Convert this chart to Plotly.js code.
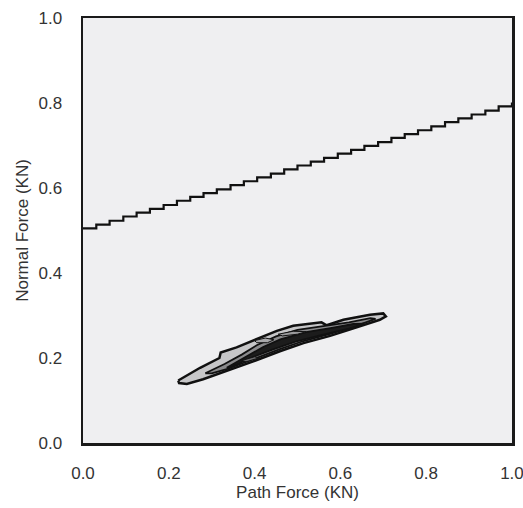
<!DOCTYPE html>
<html>
<head>
<meta charset="utf-8">
<script src="https://cdn.plot.ly/plotly-3.0.1.min.js"></script>
<style>html,body{margin:0;padding:0;background:#fff;}#chart{width:523px;height:508px;}</style>
</head>
<body>
<div id="chart"></div>
<script>
// Staircase boundary line (step starts)
const lineX = [0, 0.031, 0.062, 0.094, 0.125, 0.156, 0.188, 0.219, 0.25, 0.281, 0.312, 0.344, 0.375, 0.406, 0.438, 0.469, 0.5, 0.531, 0.562, 0.594, 0.625, 0.656, 0.688, 0.719, 0.75, 0.781, 0.812, 0.844, 0.875, 0.906, 0.938, 0.969, 1.0];
const lineY = [0.505, 0.514, 0.523, 0.533, 0.542, 0.551, 0.560, 0.570, 0.579, 0.588, 0.597, 0.607, 0.616, 0.625, 0.634, 0.644, 0.653, 0.662, 0.671, 0.681, 0.690, 0.699, 0.708, 0.718, 0.727, 0.736, 0.745, 0.755, 0.764, 0.773, 0.782, 0.792, 0.801];

// Contour outlines (outer -> inner)
const outerX = [0.222, 0.273, 0.318, 0.321, 0.358, 0.405, 0.452, 0.490, 0.556, 0.568, 0.607, 0.669, 0.700, 0.706, 0.692, 0.638, 0.576, 0.514, 0.459, 0.397, 0.335, 0.280, 0.242, 0.224, 0.222];
const outerY = [0.147, 0.177, 0.200, 0.213, 0.225, 0.244, 0.264, 0.276, 0.284, 0.277, 0.290, 0.302, 0.305, 0.298, 0.290, 0.272, 0.252, 0.235, 0.216, 0.192, 0.169, 0.150, 0.139, 0.141, 0.147];

const midX = [0.285, 0.330, 0.370, 0.405, 0.450, 0.500, 0.560, 0.620, 0.670, 0.682, 0.640, 0.576, 0.514, 0.459, 0.397, 0.335, 0.300, 0.285];
const midY = [0.164, 0.186, 0.208, 0.230, 0.251, 0.266, 0.275, 0.284, 0.294, 0.292, 0.277, 0.257, 0.240, 0.221, 0.197, 0.174, 0.164, 0.164];

const darkX = [0.335, 0.380, 0.420, 0.460, 0.520, 0.580, 0.630, 0.655, 0.620, 0.560, 0.500, 0.440, 0.390, 0.350, 0.335];
const darkY = [0.177, 0.203, 0.226, 0.244, 0.261, 0.271, 0.280, 0.281, 0.269, 0.255, 0.240, 0.219, 0.200, 0.181, 0.177];

const island1X = [0.40, 0.425, 0.445, 0.43, 0.405, 0.40];
const island1Y = [0.241, 0.247, 0.243, 0.236, 0.236, 0.241];
const island2X = [0.455, 0.49, 0.52, 0.50, 0.465, 0.455];
const island2Y = [0.256, 0.263, 0.262, 0.256, 0.252, 0.256];
const island3X = [0.37, 0.40, 0.41, 0.38, 0.37];
const island3Y = [0.194, 0.203, 0.200, 0.191, 0.194];

const xTicks = [0, 0.2, 0.4, 0.6, 0.8, 1.0];
const xTickText = ['0.0', '0.2', '0.4', '0.6', '0.8', '1.0'];
const yTicks = [0, 0.2, 0.4, 0.6, 0.8, 1.0];
const yTickText = ['0.0', '0.2', '0.4', '0.6', '0.8', '1.0'];

function poly(x, y, fill, w) {
  return {x: x, y: y, type: 'scatter', mode: 'lines', fill: 'toself', fillcolor: fill,
          line: {color: '#111', width: w}, hoverinfo: 'skip', showlegend: false};
}

const traces = [
  poly(outerX, outerY, '#c6c6c8', 2.5),
  poly(midX, midY, '#8a8a8c', 1.8),
  poly(darkX, darkY, '#1c1c1c', 1.8),
  poly(island1X, island1Y, '#a8a8aa', 1),
  poly(island2X, island2Y, '#9a9a9c', 1),
  poly(island3X, island3Y, '#6a6a6c', 1),
  {x: lineX, y: lineY, type: 'scatter', mode: 'lines', line: {color: '#111', width: 2.2, shape: 'hv'}, showlegend: false}
];

const layout = {
  width: 523, height: 508,
  margin: {l: 83, r: 11, t: 18, b: 65},
  paper_bgcolor: '#ffffff',
  plot_bgcolor: '#efeff1',
  font: {family: 'Liberation Sans, Arial, sans-serif', size: 17, color: '#333'},
  showlegend: false,
  xaxis: {
    range: [0, 1.0001], tickvals: xTicks, ticktext: xTickText, ticklabeloverflow: 'allow',
    showgrid: false, zeroline: false, showline: true, mirror: true,
    linecolor: '#1a1a1a', linewidth: 2.5, ticks: 'outside', ticklen: 13, tickcolor: 'rgba(0,0,0,0)',
    title: {text: 'Path Force (KN)', font: {size: 17, color: '#333'}, standoff: 4}
  },
  yaxis: {
    range: [0, 1.0001], tickvals: yTicks, ticktext: yTickText, ticklabeloverflow: 'allow',
    showgrid: false, zeroline: false, showline: true, mirror: true,
    linecolor: '#1a1a1a', linewidth: 2.5, ticks: 'outside', ticklen: 15, tickcolor: 'rgba(0,0,0,0)',
    title: {text: 'Normal Force (KN)', font: {size: 17, color: '#333'}, standoff: 6}
  }
};

Plotly.newPlot('chart', traces, layout, {staticPlot: true, displayModeBar: false});
</script>
</body>
</html>
